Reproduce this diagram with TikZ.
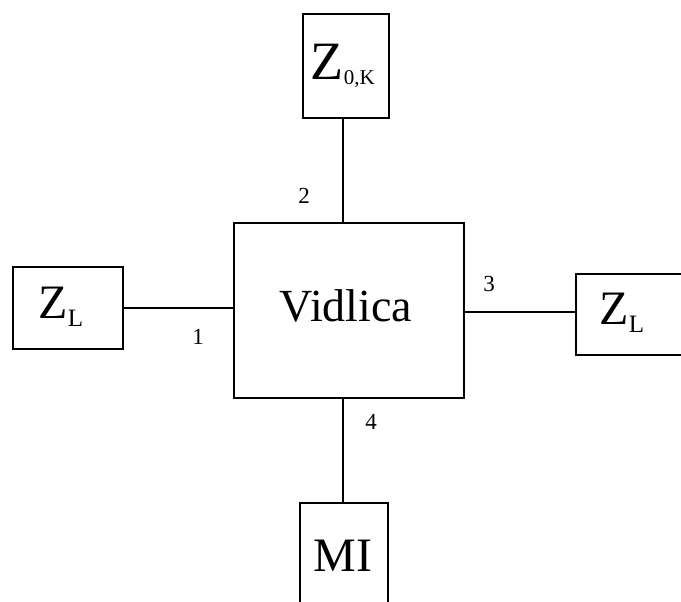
\documentclass[tikz,border=0pt]{standalone}
\usepackage{fontspec}
\setmainfont{Liberation Serif}
\begin{document}
\begin{tikzpicture}[x=1pt,y=-1pt,
  blk/.style={draw, line width=1.8pt, rectangle, inner sep=0pt, anchor=north west},
  wire/.style={line width=1.8pt},
  port/.style={font=\fontsize{23}{23}\selectfont, inner sep=0pt}]
  \useasboundingbox (0,0) rectangle (681,602);
  % central block
  \node[blk, minimum width=230pt, minimum height=175pt] (vid) at (233,222) {};
  \node[font=\fontsize{46}{46}\selectfont] (vidtxt) at (346,306) {Vidlica};
  % terminating blocks
  \node[blk, minimum width=86pt, minimum height=104pt] (top) at (302,13) {};
  \node[font=\fontsize{54}{54}\selectfont, inner sep=0pt] (toptxt) at (343,66) {Z\textsubscript{\fontsize{21}{21}\selectfont 0,K}};
  \node[blk, minimum width=110pt, minimum height=82pt] (left) at (12,266) {};
  \node[font=\fontsize{48}{48}\selectfont, inner sep=0pt] (lefttxt) at (61,307) {Z\textsubscript{\fontsize{25}{25}\selectfont L}};
  \node[blk, minimum width=112pt, minimum height=81pt] (right) at (575,273) {};
  \node[font=\fontsize{48}{48}\selectfont, inner sep=0pt] (righttxt) at (622,313) {Z\textsubscript{\fontsize{25}{25}\selectfont L}};
  \node[blk, minimum width=88pt, minimum height=130pt] (bot) at (299,502) {};
  \node[font=\fontsize{48}{48}\selectfont, inner sep=0pt] (bottxt) at (343,556) {MI};
  % connections
  \draw[wire] (top.south -| 343,0) coordinate (t1) -- (t1 |- vid.north);
  \draw[wire] (left.east |- 0,308) coordinate (l1) -- (l1 -| vid.west);
  \draw[wire] (right.west |- 0,312) coordinate (r1) -- (r1 -| vid.east);
  \draw[wire] (vid.south -| 343,0) coordinate (b1) -- (b1 |- bot.north);
  % port numbers
  \node[port] (p1) at (198,337) {1};
  \node[port] (p2) at (304,196) {2};
  \node[port] (p3) at (489,284) {3};
  \node[port] (p4) at (371,422) {4};
\end{tikzpicture}
\end{document}
